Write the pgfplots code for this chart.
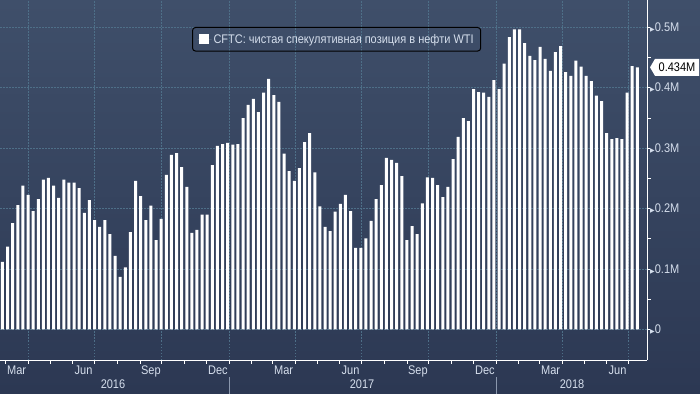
\documentclass[border=0pt]{standalone}
\usepackage{fontspec}
\setmainfont{Liberation Sans}[FakeStretch=0.88]
\newfontfamily\symfont{DejaVu Sans}
\usepackage{pgfplots}
\pgfplotsset{compat=1.18}
\usepackage{pgfplotstable}
\definecolor{bgtop}{HTML}{3F4F6A}
\definecolor{bgbot}{HTML}{2C3853}
\definecolor{gridc}{HTML}{4E6F88}
\definecolor{lbl}{HTML}{D5DEEC}
\definecolor{sepc}{HTML}{8A97AD}
\newcommand\tri{{\symfont\fontsize{6}{6}\selectfont ▶}}
\pgfplotstableread{
x y
56 0.112
63 0.137
70 0.176
77 0.206
84 0.238
91 0.223
98 0.196
105 0.216
112 0.248
119 0.251
126 0.238
133 0.218
140 0.248
147 0.243
154 0.243
161 0.234
168 0.193
175 0.214
182 0.181
189 0.170
196 0.181
203 0.158
210 0.122
217 0.087
224 0.103
231 0.161
238 0.246
245 0.221
252 0.181
259 0.205
266 0.148
273 0.183
280 0.256
287 0.289
294 0.292
301 0.269
308 0.236
315 0.160
322 0.165
329 0.190
336 0.190
343 0.272
350 0.304
357 0.307
364 0.309
371 0.306
378 0.307
385 0.350
392 0.372
399 0.382
406 0.360
413 0.392
420 0.415
427 0.388
434 0.377
441 0.291
448 0.262
455 0.246
462 0.267
469 0.310
476 0.325
483 0.260
490 0.204
497 0.170
504 0.163
511 0.195
518 0.208
525 0.223
532 0.196
539 0.135
546 0.135
553 0.151
560 0.180
567 0.216
574 0.239
581 0.284
588 0.281
595 0.276
602 0.254
609 0.148
616 0.171
623 0.158
630 0.209
637 0.252
644 0.251
651 0.239
658 0.219
665 0.236
672 0.282
679 0.319
686 0.350
693 0.345
700 0.398
707 0.393
714 0.392
721 0.385
728 0.413
735 0.398
742 0.440
749 0.484
756 0.497
763 0.497
770 0.474
777 0.453
784 0.446
791 0.468
798 0.448
805 0.428
812 0.459
819 0.469
826 0.426
833 0.420
840 0.445
847 0.435
854 0.420
861 0.411
868 0.387
875 0.378
882 0.325
889 0.315
896 0.317
903 0.315
910 0.392
917 0.436
924 0.434
}\cftc
\begin{document}
\begin{tikzpicture}
\useasboundingbox (0pt,0pt) rectangle (700pt,393pt);
\shade[top color=bgtop, bottom color=bgbot] (0pt,0pt) rectangle (700pt,393pt);
\begin{axis}[
  at={(0pt,33pt)}, anchor=south west,
  scale only axis, width=647pt, height=360pt,
  xmin=52.7, xmax=937.2, ymin=-0.0505, ymax=0.5455,
  clip=false,
  axis x line*=bottom, axis y line*=right,
  axis line style={white, line width=1pt},
  tick style={white, line width=0.8pt},
  tick align=outside,
  major tick length=3pt, minor tick length=3.5pt,
  xtick={75.5,167,259,350.5,440.5,532,624,715.5,805.5,897},
  xticklabels={Mar,Jun,Sep,Dec,Mar,Jun,Sep,Dec,Mar,Jun},
  major x tick style={draw=none},
  minor xtick={60,91,121,152,182,213,244,274,305,335,366,397,425,456,486,517,547,578,609,639,670,700,731,762,790,821,851,882,912},
  extra x ticks={91,182,274,366,456,547,639,731,821,912},
  extra x tick labels={},
  extra x tick style={grid=major},
  ytick={0,0.1,0.2,0.3,0.4,0.5},
  yticklabels={\tri0,\tri0.1M,\tri0.2M,\tri0.3M,\tri0.4M,\tri0.5M},
  minor ytick={0.05,0.15,0.25,0.35,0.45},
  ymajorgrids,
  grid style={gridc, dash pattern=on 1.5pt off 1.5pt, line width=0.8pt},
  xticklabel style={font=\fontsize{12.5}{13}\selectfont, text=lbl, inner sep=0pt, anchor=north, yshift=-3pt},
  yticklabel style={font=\fontsize{12.5}{13}\selectfont, text=lbl, inner sep=0pt, anchor=west, xshift=0pt},
  legend style={at={(0.2968,0.925)}, anchor=north west, draw=black, line width=1pt,
    rounded corners=3pt, fill=none, text=lbl, font=\fontsize{12.5}{13}\selectfont,
    inner xsep=5pt, inner ysep=4.5pt},
  legend cell align=left,
  legend image code/.code={\path (0pt,0pt) -- (14pt,0pt);\fill[white, sharp corners] (1pt,-5pt) rectangle (11pt,5pt);},
]
\addplot[ybar, bar width=3pt, fill=white, draw=none] table[x=x,y=y] {\cftc};
\addlegendentry{CFTC: чистая спекулятивная позиция в нефти WTI\hspace{4pt}}
\fill[white] ([xshift=3pt]axis cs:937.2,0.434) -- ++(5pt,8.5pt) -- ++(44pt,0pt) -- ++(0pt,-17pt) -- ++(-44pt,0pt) -- cycle;
\node[black, font=\fontsize{12.5}{13}\selectfont, inner sep=0pt] at ([xshift=30pt]axis cs:937.2,0.434) {0.434M};
\draw[sepc, line width=1pt] ([yshift=-17pt]axis cs:366,-0.0505) -- ++(0pt,-17pt);
\draw[sepc, line width=1pt] ([yshift=-17pt]axis cs:731,-0.0505) -- ++(0pt,-17pt);
\end{axis}
\node[text=lbl, font=\fontsize{12.5}{13}\selectfont, inner sep=0pt] at (113pt,8.5pt) {2016};
\node[text=lbl, font=\fontsize{12.5}{13}\selectfont, inner sep=0pt] at (362pt,8.5pt) {2017};
\node[text=lbl, font=\fontsize{12.5}{13}\selectfont, inner sep=0pt] at (572pt,8.5pt) {2018};
\end{tikzpicture}
\end{document}
